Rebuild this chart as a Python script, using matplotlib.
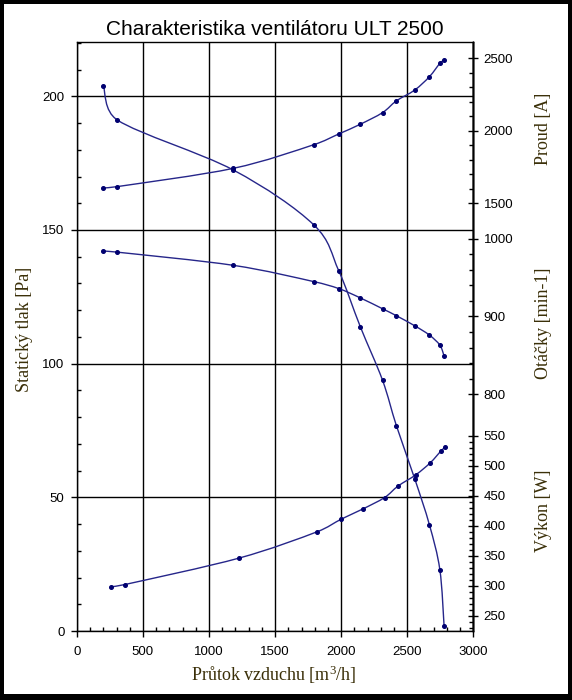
import numpy as np
import matplotlib
matplotlib.use("Agg")
import matplotlib.pyplot as plt
from matplotlib.path import Path
from matplotlib.patches import PathPatch, Rectangle

# flow [m3/h] shared by pressure, current and speed curves
flow = [200, 307, 1185, 1793, 1982, 2145, 2313, 2418, 2557, 2668, 2747, 2779]
pressure = [204.0, 191.1, 172.4, 151.9, 134.7, 113.8, 93.8, 76.8, 56.9, 39.7, 22.9, 1.8]
current = [1605, 1615, 1741, 1904, 1978, 2045, 2125, 2206, 2281, 2373, 2465, 2488]
speed = [984.5, 983, 966, 945, 936, 924, 910, 901, 888, 876, 863, 849]
# power curve was measured at slightly different flows
flow_power = [256, 364, 1227, 1819, 2001, 2165, 2329, 2430, 2566, 2675, 2753, 2786]
power = [298, 302, 346, 390, 411, 428, 447, 466, 485, 505, 524, 531]

title = "Charakteristika ventilátoru ULT 2500"
xlabel = "Průtok vzduchu [m$^{3}$/h]"

LINE = "#26268a"
MARK = "#000070"
LABEL = "#3a2f08"

plt.rcParams["font.family"] = ["Liberation Sans", "DejaVu Sans"]
plt.rcParams["mathtext.fontset"] = "custom"
plt.rcParams["mathtext.rm"] = "Liberation Serif"
plt.rcParams["mathtext.it"] = "Liberation Serif"
serif = ["Liberation Serif", "DejaVu Serif"]

W, H = 572, 700
fig = plt.figure(figsize=(W / 100, H / 100), dpi=100)
fig.patch.set_facecolor("black")
fig.add_artist(Rectangle((4 / W, 6 / H), 564 / W, 690 / H, transform=fig.transFigure,
                         facecolor="white", edgecolor="none", zorder=-5))

l, r, t, b = 76.9, 473.3, 42.3, 631.0
rect = [l / W, 1 - b / H, (r - l) / W, (b - t) / H]
ax = fig.add_axes(rect)
ax.set_xlim(0, 3000)
ax.set_ylim(0, 220.2)


def smooth(axis, x, y):
    # smoothed line like the spreadsheet's, drawn as bezier path
    P = axis.transData.transform(np.column_stack([x, y]))
    n = len(P)
    verts = [P[0]]
    codes = [Path.MOVETO]
    for i in range(n - 1):
        p0 = P[max(i - 1, 0)]
        p1 = P[i]
        p2 = P[i + 1]
        p3 = P[min(i + 2, n - 1)]
        d = np.hypot(*(p2 - p1))
        t1 = (p2 - p0) / 6.0
        t2 = (p3 - p1) / 6.0
        for tv in (t1, t2):
            m = np.hypot(*tv)
            if m > 0.45 * d:
                tv *= 0.45 * d / m
        verts += [p1 + t1, p2 - t2, p2]
        codes += [Path.CURVE4] * 3
    verts = axis.transData.inverted().transform(np.array(verts))
    axis.add_patch(PathPatch(Path(verts, codes), fill=False, edgecolor=LINE,
                             lw=1.0, transform=axis.transData, zorder=3))
    axis.plot(x, y, ls="none", marker="o", ms=2.6, color=MARK, zorder=4)


# left axis: static pressure
ax.set_xticks(np.arange(0, 3001, 500))
ax.set_xticks(np.arange(0, 3001, 100), minor=True)
ax.set_yticks([0, 50, 100, 150, 200])
ax.set_yticks(np.arange(0, 221, 10), minor=True)
ax.grid(True, which="major", color="black", lw=1.0)
ax.tick_params(which="major", direction="out", length=4, width=1, labelsize=9.5,
               colors="black")
ax.tick_params(which="minor", direction="in", length=3, width=1)
ax.tick_params(axis="x", which="major", pad=7)
ax.tick_params(axis="y", which="major", pad=5)
ax.tick_params(right=False, top=False, which="both")
for s in ax.spines.values():
    s.set_linewidth(1.0)
ax.set_xlabel(xlabel, family=serif, fontsize=13, color=LABEL)
ax.xaxis.set_label_coords(0.497, -0.055)
ax.set_ylabel("Statický tlak [Pa]", family=serif, fontsize=13, color=LABEL)
ax.yaxis.set_label_coords(-0.111, 0.512)
ax.set_title(title, fontsize=15, pad=5)
smooth(ax, flow, pressure)

# right scales: current, speed, power share the right spine
scales = [
    ("Proud [A]", (-1450, 2610), [1500, 2000, 2500], np.arange(1500, 2501, 100), 0.853, flow, current),
    ("Otáčky [min-1]", (494.2, 1253.8), [800, 900, 1000], np.arange(800, 1001, 20), 0.523, flow, speed),
    ("Výkon [W]", (224.5, 1205.7), np.arange(250, 551, 50), np.arange(230, 551, 10), 0.205, flow_power, power),
]
for name, lim, major, minor, ypos, xs, ys in scales:
    tw = ax.twinx()
    tw.set_ylim(*lim)
    tw.set_yticks(major)
    tw.set_yticks(minor, minor=True)
    for k in ("left", "top", "bottom"):
        tw.spines[k].set_visible(False)
    tw.spines["right"].set_linewidth(1.0)
    tw.tick_params(axis="y", which="major", direction="inout", length=7, width=1,
                   labelsize=9.5, pad=4)
    tw.tick_params(axis="y", which="minor", direction="in", length=3, width=1)
    tw.set_ylabel(name, family=serif, fontsize=13, color=LABEL)
    tw.yaxis.set_label_coords(1.156, ypos)
    smooth(tw, xs, ys)

fig.savefig("out.png", dpi=100, facecolor=fig.get_facecolor())
